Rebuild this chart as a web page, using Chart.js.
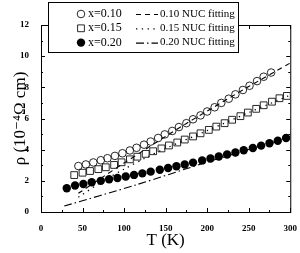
<!DOCTYPE html>
<html>
<head>
<meta charset="utf-8">
<script src="https://cdn.jsdelivr.net/npm/chart.js@4"></script>
<style>
  html, body { margin: 0; padding: 0; background: #fff; }
  #grafik { display: block; }
</style>
</head>
<body>
<canvas id="grafik" width="300" height="253"></canvas>
<script>
// values (T in K, rho in 10^-4 ohm cm)
const tOpen = [45, 54, 63, 72, 80, 89, 98, 107, 115, 124, 132, 141, 149, 158, 166, 175, 183, 192, 200, 209, 217, 226, 234, 243, 251, 260, 268, 277];
const rhoOpen = [2.95, 3.05, 3.18, 3.32, 3.45, 3.60, 3.77, 3.95, 4.12, 4.32, 4.52, 4.75, 4.98, 5.20, 5.45, 5.70, 5.95, 6.20, 6.45, 6.72, 7.00, 7.27, 7.55, 7.83, 8.10, 8.40, 8.68, 8.95];

const tSquare = [40, 50, 59, 69, 78, 88, 97, 107, 116, 126, 135, 145, 154, 164, 173, 183, 192, 202, 211, 221, 230, 240, 249, 259, 268, 278, 287, 296];
const rhoSquare = [2.37, 2.52, 2.63, 2.75, 2.87, 3.02, 3.19, 3.38, 3.55, 3.73, 3.90, 4.08, 4.27, 4.46, 4.65, 4.85, 5.05, 5.27, 5.48, 5.70, 5.92, 6.15, 6.38, 6.62, 6.85, 7.08, 7.30, 7.45];

const tFilled = [31, 41, 51, 61, 72, 82, 92, 102, 112, 122, 132, 143, 153, 163, 173, 183, 194, 204, 214, 224, 234, 244, 255, 265, 275, 285, 295];
const rhoFilled = [1.52, 1.70, 1.80, 1.91, 2.00, 2.10, 2.18, 2.28, 2.38, 2.48, 2.59, 2.71, 2.82, 2.94, 3.05, 3.17, 3.31, 3.43, 3.56, 3.69, 3.82, 3.96, 4.11, 4.26, 4.41, 4.57, 4.75];

// NUC fitting curves
const tFit10 = [45, 75, 100, 125, 150, 175, 200, 250, 300];
const rhoFit10 = [1.20, 2.27, 3.14, 4.00, 4.85, 5.68, 6.48, 8.05, 9.56];
const tFit15 = [45, 75, 100, 125, 150, 200, 250, 300];
const rhoFit15 = [0.95, 2.00, 2.75, 3.45, 4.08, 5.22, 6.38, 7.50];
const tFit20 = [28, 115, 200, 300];
const rhoFit20 = [0.38, 1.75, 3.20, 4.80];

const xTicks = [0, 50, 100, 150, 200, 250, 300];
const xMinor = [25, 75, 125, 175, 225, 275];
const yTicks = [0, 2, 4, 6, 8, 10, 12];
const yMinor = [1, 3, 5, 7, 9, 11];

const serif = "'Liberation Serif', 'DejaVu Serif', serif";

function noktalar(xs, ys) {
  return xs.map((x, i) => ({ x: x, y: ys[i] }));
}

// data series first, fits after; legend rows pair them up
const datasets = [
  { label: 'x=0.10', data: noktalar(tOpen, rhoOpen), showLine: false,
    pointStyle: 'circle', pointRadius: 3.8, borderWidth: 0.9,
    borderColor: '#111', backgroundColor: 'rgba(0,0,0,0)' },
  { label: 'x=0.15', data: noktalar(tSquare, rhoSquare), showLine: false,
    pointStyle: 'rect', pointRadius: 4.8, borderWidth: 0.9,
    borderColor: '#111', backgroundColor: 'rgba(0,0,0,0)' },
  { label: 'x=0.20', data: noktalar(tFilled, rhoFilled), showLine: false,
    pointStyle: 'circle', pointRadius: 4.2, borderWidth: 0,
    borderColor: '#000', backgroundColor: '#000' },
  { label: '0.10 NUC fitting', data: noktalar(tFit10, rhoFit10), showLine: true,
    pointRadius: 0, borderWidth: 1.1, borderColor: '#000', borderDash: [5, 4], tension: 0.3 },
  { label: '0.15 NUC fitting', data: noktalar(tFit15, rhoFit15), showLine: true,
    pointRadius: 0, borderWidth: 1.3, borderColor: '#000', borderDash: [1.3, 4.5], tension: 0.3 },
  { label: '0.20 NUC fitting', data: noktalar(tFit20, rhoFit20), showLine: true,
    pointRadius: 0, borderWidth: 1.1, borderColor: '#000', borderDash: [8, 3, 1.5, 3], tension: 0.3 }
];

// box round the plot, ticks pointing inwards
const cerceve = {
  id: 'cerceve',
  afterDatasetsDraw(chart) {
    const { ctx, chartArea: a, scales: { x, y } } = chart;
    ctx.save();
    ctx.strokeStyle = '#000';
    ctx.lineWidth = 1;
    ctx.setLineDash([]);
    ctx.strokeRect(a.left + 0.5, a.top + 0.5, a.right - a.left, a.bottom - a.top);
    ctx.beginPath();
    const xAll = xTicks.map(v => [v, 4]).concat(xMinor.map(v => [v, 2]));
    xAll.forEach(([v, len]) => {
      const px = Math.round(x.getPixelForValue(v)) + 0.5;
      ctx.moveTo(px, a.bottom); ctx.lineTo(px, a.bottom - len);
      ctx.moveTo(px, a.top); ctx.lineTo(px, a.top + len);
    });
    const yAll = yTicks.map(v => [v, 4]).concat(yMinor.map(v => [v, 2]));
    yAll.forEach(([v, len]) => {
      const py = Math.round(y.getPixelForValue(v)) + 0.5;
      ctx.moveTo(a.left, py); ctx.lineTo(a.left + len, py);
      ctx.moveTo(a.right, py); ctx.lineTo(a.right - len, py);
    });
    ctx.stroke();
    ctx.restore();
  }
};

// boxed legend in two columns: markers on the left, fit lines on the right
const lejant = {
  id: 'lejant',
  afterDraw(chart) {
    const ctx = chart.ctx;
    const ds = chart.data.datasets;
    ctx.save();
    ctx.fillStyle = '#fff';
    ctx.fillRect(48, 2, 190, 50);
    ctx.strokeStyle = '#000';
    ctx.lineWidth = 1;
    ctx.strokeRect(48.5, 2.5, 190, 50);
    ctx.textBaseline = 'middle';
    for (let i = 0; i < 3; i++) {
      const yy = 14 + i * 14.3;
      const nokta = ds[i];
      ctx.fillStyle = nokta.backgroundColor;
      ctx.strokeStyle = nokta.borderColor;
      ctx.lineWidth = nokta.borderWidth;
      Chart.helpers.drawPoint(ctx, {
        pointStyle: nokta.pointStyle, radius: nokta.pointRadius,
        borderWidth: nokta.borderWidth, rotation: 0
      }, 81, yy);
      ctx.fillStyle = '#000';
      ctx.font = '12px ' + serif;
      ctx.fillText(nokta.label, 88, yy);

      const fit = ds[i + 3];
      ctx.strokeStyle = fit.borderColor;
      ctx.lineWidth = fit.borderWidth;
      ctx.setLineDash(fit.borderDash);
      ctx.beginPath();
      ctx.moveTo(136, yy + 0.5);
      ctx.lineTo(158, yy + 0.5);
      ctx.stroke();
      ctx.setLineDash([]);
      ctx.font = '11px ' + serif;
      ctx.fillText(fit.label, 160, yy);
    }
    ctx.restore();
  }
};

new Chart(document.getElementById('grafik'), {
  type: 'scatter',
  data: { datasets: datasets },
  options: {
    responsive: false,
    animation: false,
    layout: { padding: { left: 0, right: 9, top: 25, bottom: 0 } },
    plugins: { legend: { display: false }, tooltip: { enabled: false } },
    scales: {
      x: {
        type: 'linear', min: 0, max: 300,
        afterBuildTicks: s => { s.ticks = xTicks.map(v => ({ value: v })); },
        afterFit: s => { s.height = 41; },
        grid: { display: false },
        border: { display: false },
        ticks: { color: '#000', padding: 3, maxRotation: 0, font: { family: serif, size: 9, weight: 'bold' } },
        title: { display: true, text: 'T (K)', color: '#000', padding: { top: 0, bottom: 2 },
                 font: { family: serif, size: 17 } }
      },
      y: {
        type: 'linear', min: 0, max: 12,
        afterBuildTicks: s => { s.ticks = yTicks.map(v => ({ value: v })); },
        afterFit: s => { s.width = 41; },
        grid: { display: false },
        border: { display: false },
        ticks: { color: '#000', padding: 4, font: { family: serif, size: 9, weight: 'bold' } },
        title: { display: true, text: 'ρ (10⁻⁴Ω cm)', color: '#000', padding: { top: 10, bottom: 0 },
                 font: { family: serif, size: 17 } }
      }
    }
  },
  plugins: [cerceve, lejant]
});
</script>
</body>
</html>
